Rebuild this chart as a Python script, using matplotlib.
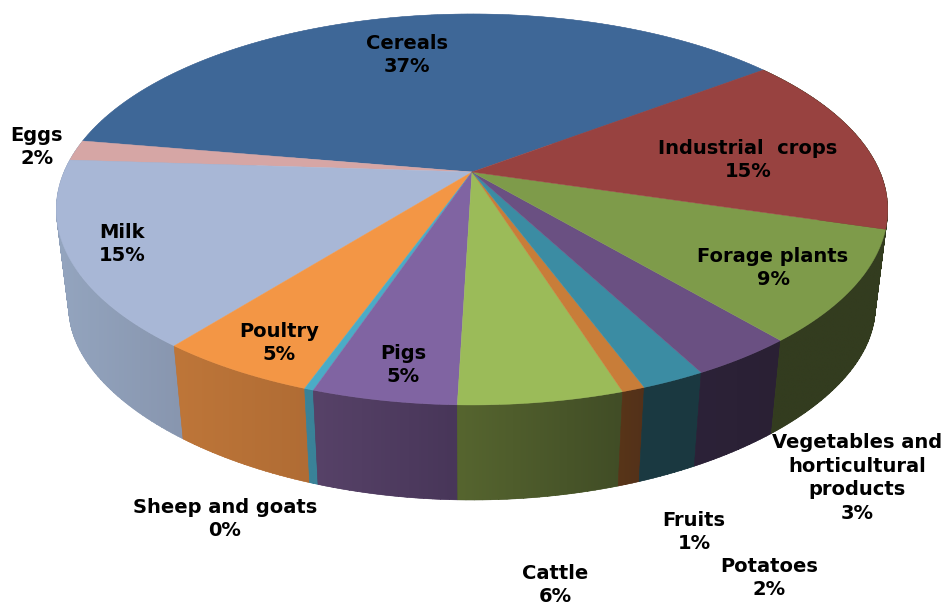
import numpy as np
import matplotlib
matplotlib.use("Agg")
import matplotlib.pyplot as plt
from matplotlib.patches import Polygon, PathPatch
from matplotlib.path import Path

# Data (counter-clockwise from the Cereals/Industrial edge)
categories = ["Cereals", "Eggs", "Milk", "Poultry", "Sheep and goats", "Pigs",
              "Cattle", "Fruits", "Potatoes", "Vegetables and\nhorticultural\nproducts",
              "Forage plants", "Industrial  crops"]
shares = [37.0, 1.7, 15.4, 5.2, 0.3, 4.7, 5.35, 0.75, 2.1, 3.45, 9.2, 15.0]
shown_pct = [37, 2, 15, 5, 0, 5, 6, 1, 2, 3, 9, 15]

# Styles
top_colors = ["#3E6797", "#D6A6A5", "#A8B7D6", "#F39645", "#4BACC6", "#8064A2",
              "#9BBB59", "#C87D39", "#3B8CA3", "#6A5082", "#7E9B4A", "#984240"]
side_start = ["#94A5BF", "#94A5BF", "#94A5BF", "#BE7639", "#3A8298", "#574268",
              "#56652F", "#583518", "#1B3A42", "#2C2238", "#333C1F", "#333C1F"]
side_end = ["#94A5BF", "#94A5BF", "#8896AF", "#B06C34", "#3A8298", "#483659",
            "#414D26", "#53311A", "#1A3840", "#2A2034", "#333C1F", "#333C1F"]
label_xy = [(407, 55), (37, 147), (122, 244), (279, 343), (225, 519), (403, 365),
            (555, 585), (694, 532), (769, 578), (857, 478), (773, 268), (748, 160)]
start_deg = 37.2

# Perspective projection of the pie disc
CX, CY, B, A, K = 472.0, 172.0, 408.0, 188.3, 0.1918


def top_face(theta):
    u, v = np.cos(theta), -np.sin(theta)
    w = 1 - K * v
    return CX + B * u / w, CY + A * v / w


def bottom_face(theta):
    u, v = np.cos(theta), -np.sin(theta)
    x = CX + 0.97 * B * u / (1 - K * v)
    y = 274.0 + 167.7 * v / (1 - 0.258 * v)
    return x, y


def signed_area(q):
    q = np.asarray(q)
    x, y = q[:, 0], q[:, 1]
    return 0.5 * np.sum(x * np.roll(y, -1) - np.roll(x, -1) * y)


fig = plt.figure(figsize=(9.44, 6.06), dpi=100)
ax = fig.add_axes([0, 0, 1, 1])

fractions = np.array(shares) / sum(shares)
edges = np.radians(start_deg + 360 * np.concatenate([[0], np.cumsum(fractions)]))

# Side wall: one compound outline per slice, filled with a horizontal gradient
for i in range(len(shares)):
    th = np.linspace(edges[i], edges[i + 1], max(3, int(np.degrees(edges[i + 1] - edges[i])) + 2))
    xt, yt = top_face(th)
    xb, yb = bottom_face(th)
    verts, codes = [], []
    for j in range(len(th) - 1):
        quad = [(xt[j], yt[j]), (xt[j + 1], yt[j + 1]), (xb[j + 1], yb[j + 1]), (xb[j], yb[j])]
        if signed_area(quad) < 0:
            quad = quad[::-1]
        verts += quad + [quad[0]]
        codes += [Path.MOVETO, Path.LINETO, Path.LINETO, Path.LINETO, Path.CLOSEPOLY]
    outline = Path(verts, codes)
    c0 = np.array(matplotlib.colors.to_rgb(side_start[i]))
    c1 = np.array(matplotlib.colors.to_rgb(side_end[i]))
    mid = (c0 + c1) / 2
    base = PathPatch(outline, facecolor=mid, edgecolor=mid, linewidth=0.4, zorder=1)
    ax.add_patch(base)
    pts = np.array(verts)
    ramp = np.linspace(0, 1, 64)[None, :, None]
    img = c0[None, None, :] + (c1 - c0)[None, None, :] * ramp
    im = ax.imshow(img, extent=(pts[:, 0].min(), pts[:, 0].max(), pts[:, 1].max(), pts[:, 1].min()),
                   aspect="auto", zorder=1, interpolation="bilinear")
    im.set_clip_path(base)

# Top face
for i in range(len(shares)):
    th = np.linspace(edges[i], edges[i + 1], max(3, int(np.degrees(edges[i + 1] - edges[i])) + 2))
    x, y = top_face(th)
    pts = np.vstack([[CX, CY], np.column_stack([x, y])])
    ax.add_patch(Polygon(pts, closed=True, facecolor=top_colors[i], edgecolor=top_colors[i],
                         linewidth=0.3, zorder=2))

ax.set_xlim(0, 944)
ax.set_ylim(606, 0)
ax.set_aspect("auto")
ax.axis("off")

# Labels
for name, pct, (lx, ly) in zip(categories, shown_pct, label_xy):
    ax.text(lx, ly, f"{name}\n{pct}%", ha="center", va="center", fontsize=14,
            fontweight="bold", family="DejaVu Sans", color="black", linespacing=1.31,
            zorder=5, clip_on=False)

fig.savefig("out.png", dpi=100)
